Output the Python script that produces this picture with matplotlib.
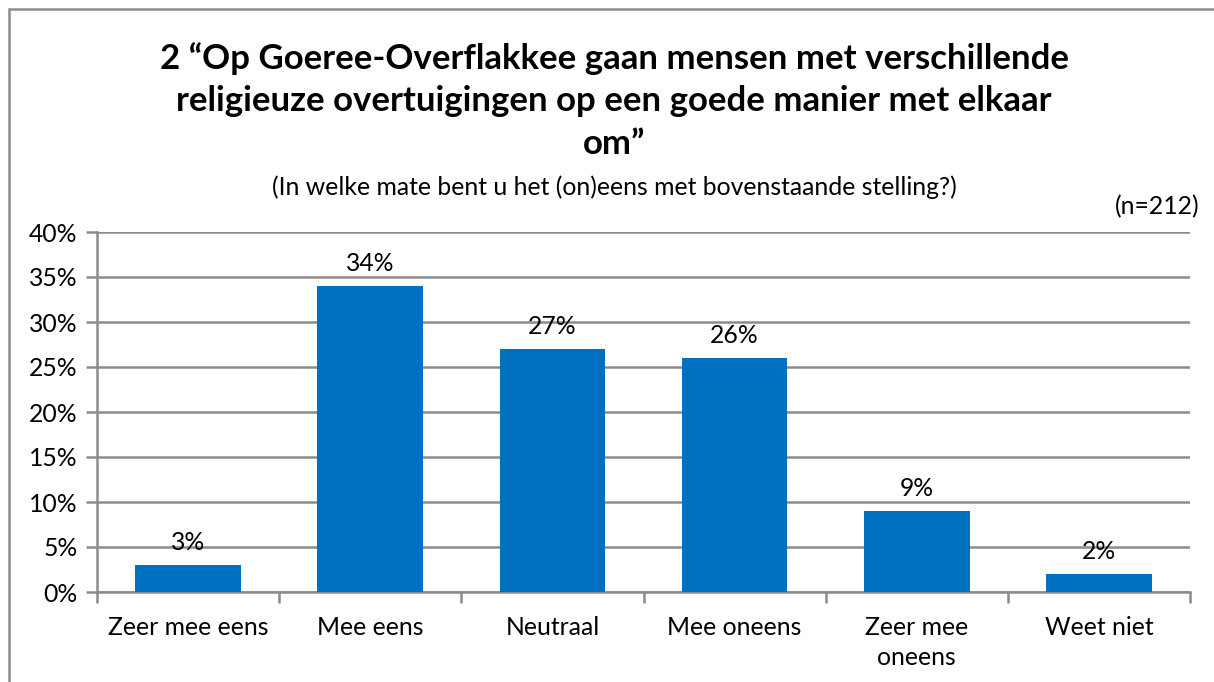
import matplotlib
matplotlib.use("Agg")
import matplotlib.pyplot as plt
from matplotlib.patches import Rectangle
from matplotlib.ticker import FixedLocator, NullFormatter

categories = ["Zeer mee eens", "Mee eens", "Neutraal", "Mee oneens", "Zeer mee\noneens", "Weet niet"]
values = [3, 34, 27, 26, 9, 2]
yticks = [0, 5, 10, 15, 20, 25, 30, 35, 40]
title = "2 \u201cOp Goeree-Overflakkee gaan mensen met verschillende\nreligieuze overtuigingen op een goede manier met elkaar\nom\u201d"
subtitle = "(In welke mate bent u het (on)eens met bovenstaande stelling?)"
ntext = "(n=212)"

plt.rcParams['font.family'] = ['Lato', 'DejaVu Sans']

W, H = 1214, 682
fig = plt.figure(figsize=(W / 100, H / 100), dpi=100)
fig.patch.set_facecolor("white")

# chart border
fig.add_artist(Rectangle((9 / W, -0.05), 1.2, 1 - 9 / H + 0.05, transform=fig.transFigure,
                         fill=False, edgecolor="#8c8c8c", linewidth=1.8))

FS = 17.8
ax = fig.add_axes([97 / W, 1 - 592 / H, (1190 - 97) / W, (592 - 232) / H])
x = list(range(len(categories)))
bars = ax.bar(x, values, width=0.58, color="#0070C0", zorder=3)
ax.set_xlim(-0.5, len(categories) - 0.5)
ax.set_ylim(0, 40)
ax.set_yticks(yticks)
ax.set_yticklabels([f"{v}%" for v in yticks])
ax.yaxis.grid(True, color="#8c8c8c", linewidth=1.8, zorder=0)
ax.set_axisbelow(True)

ax.set_xticks(x)
ax.set_xticklabels(categories, linespacing=1.4)
ax.tick_params(axis="x", length=0, pad=17, labelsize=FS)
ax.xaxis.set_minor_locator(FixedLocator([i - 0.5 for i in range(len(categories) + 1)]))
ax.xaxis.set_minor_formatter(NullFormatter())
ax.tick_params(axis="x", which="minor", length=8, width=1.8, color="#8c8c8c")
ax.tick_params(axis="y", length=8, width=1.8, color="#8c8c8c", labelsize=FS, pad=6)
for s in ["top", "right"]:
    ax.spines[s].set_visible(False)
for s in ["left", "bottom"]:
    ax.spines[s].set_color("#8c8c8c")
    ax.spines[s].set_linewidth(1.8)

for xi, v in zip(x, values):
    ax.annotate(f"{v}%", (xi, v), xytext=(0, 8), textcoords="offset points",
                ha="center", va="bottom", fontsize=FS, color="black")

fig.text(614 / W, 1 - 101 / H, title, ha="center", va="center", fontsize=25,
         fontweight="bold", linespacing=1.42)
fig.text(614 / W, 1 - 187 / H, subtitle, ha="center", va="center", fontsize=FS)
fig.text(1199 / W, 1 - 207 / H, ntext, ha="right", va="center", fontsize=FS)

fig.savefig("out.png", dpi=100, facecolor="white")
